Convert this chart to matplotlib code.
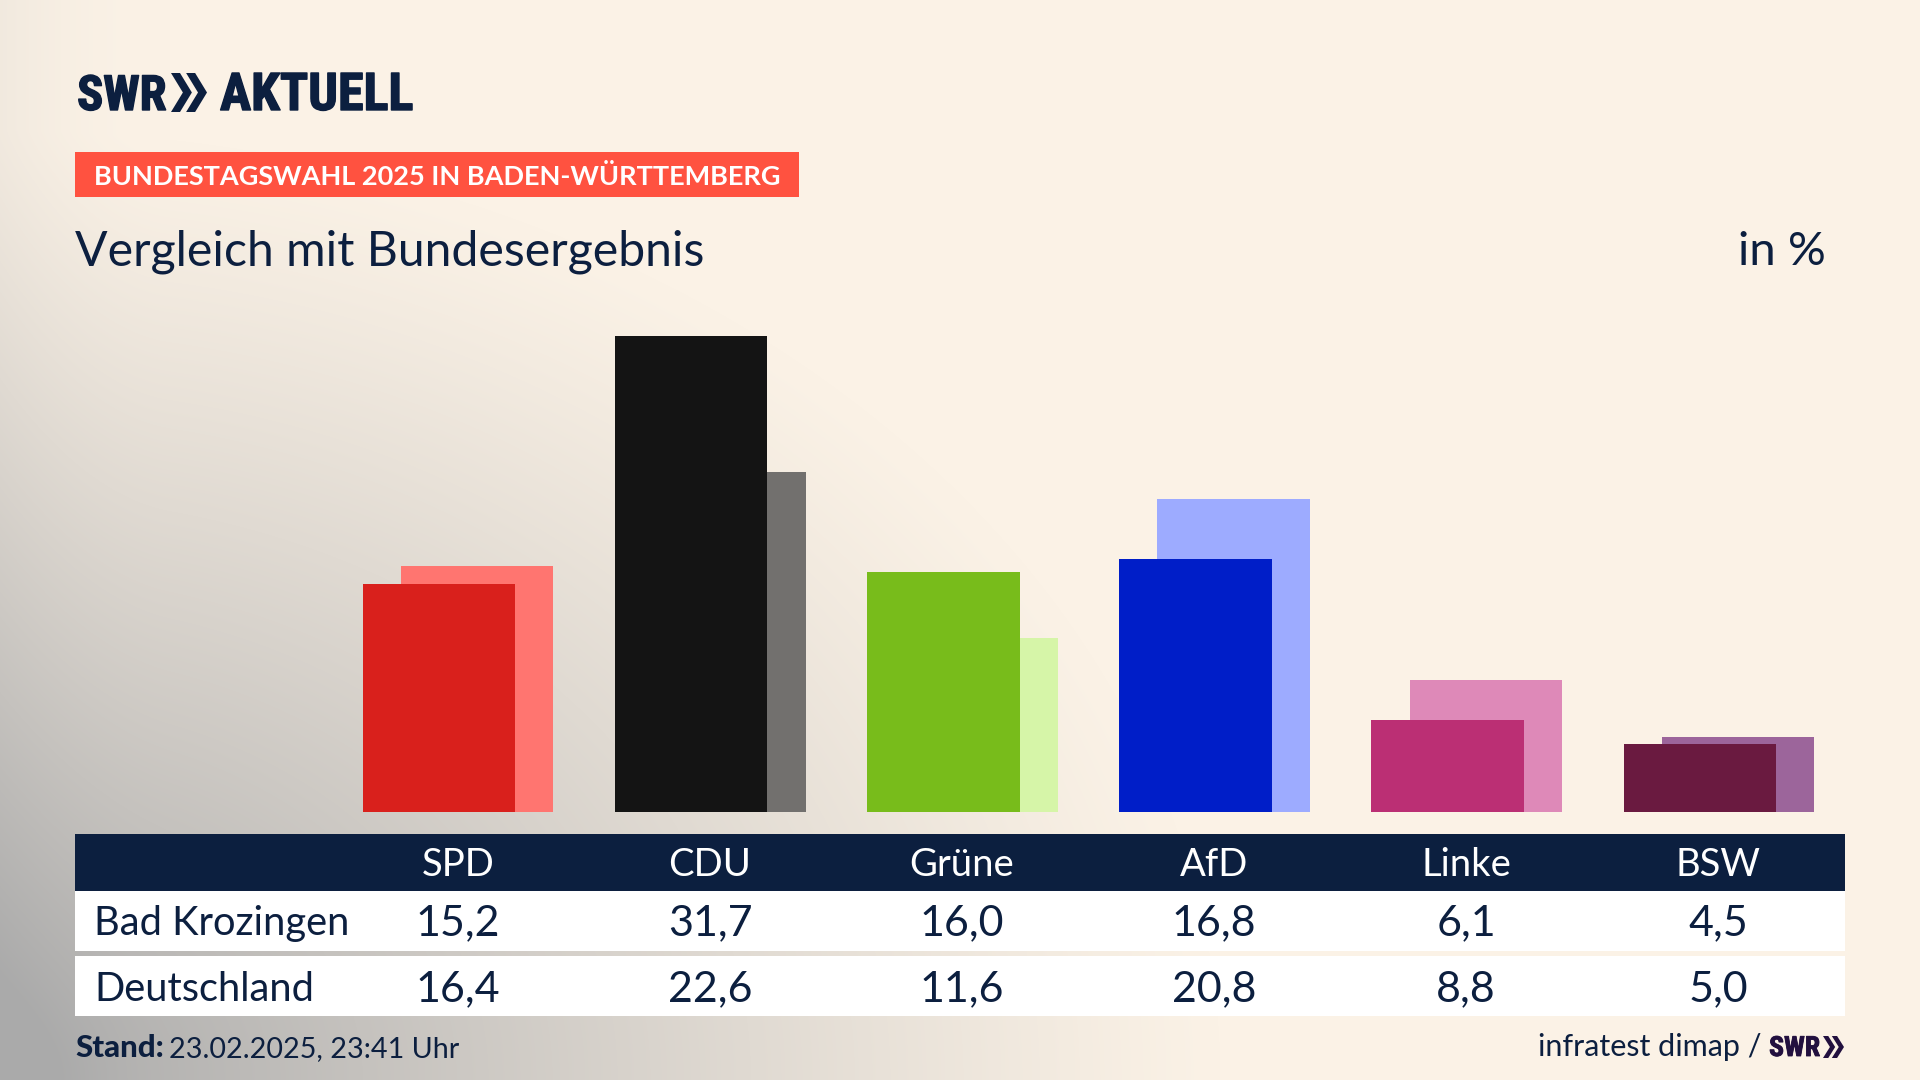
import numpy as np
import matplotlib
matplotlib.use("Agg")
import matplotlib.pyplot as plt
import matplotlib.patheffects as pe
from matplotlib.patches import Rectangle, Polygon

parties = ["SPD", "CDU", "Grüne", "AfD", "Linke", "BSW"]
bad_krozingen = [15.2, 31.7, 16.0, 16.8, 6.1, 4.5]
deutschland = [16.4, 22.6, 11.6, 20.8, 8.8, 5.0]
front_colors = ["#D9201C", "#141414", "#78BC1B", "#001EC8", "#BB2F74", "#6A1A40"]
back_colors = ["#FF7570", "#72706E", "#D6F5A8", "#9DABFF", "#DE89B8", "#9C659B"]

W, H = 1920, 1080
NAVY = "#0C1F3F"
plt.rcParams["font.family"] = ["Lato", "DejaVu Sans"]


def fmt(v):
    return ("%.1f" % v).replace(".", ",")


# background: cream with a grey glow from the lower left corner
def drawBackground(fig):
    ax = fig.add_axes([0, 0, 1, 1], zorder=0)
    yy, xx = np.mgrid[0:H, 0:W]
    r = np.sqrt((xx / 1220.0) ** 2 + ((H - yy) / 950.0) ** 2)
    t = np.clip(1 - r, 0, 1) ** 1.15
    # thin shade along the left edge
    t2 = np.clip(1 - xx / 170.0, 0, 1) ** 2 * 0.12
    t = np.clip(t + t2, 0, 1)
    cream = np.array([251, 242, 230]) / 255.0
    grey = np.array([170, 170, 170]) / 255.0
    img = cream + (grey - cream) * t[..., None]
    ax.imshow(img, aspect="auto", extent=(0, W, H, 0))
    ax.axis("off")


def chevrons(ax, x, top, bottom, w, color):
    mid = (top + bottom) / 2.0
    step = w * 0.42
    thick = w * 0.25
    tip = w * 0.33
    for i in range(2):
        x0 = x + i * step
        ax.add_patch(Polygon([(x0, top), (x0 + thick, top), (x0 + tip + thick, mid),
                              (x0 + thick, bottom), (x0, bottom), (x0 + tip, mid)],
                             closed=True, facecolor=color, edgecolor="none"))


def logoText(ax, x, y, s, size, color, stroke):
    t = ax.text(x, y, s, fontsize=size, fontweight="bold", family=["Roboto Condensed", "Lato"],
                fontstretch="condensed", color=color, va="baseline")
    t.set_path_effects([pe.withStroke(linewidth=stroke, foreground=color)])
    return t


fig = plt.figure(figsize=(W / 100, H / 100), dpi=100)
drawBackground(fig)

# bars
bar_left, bar_right, base_y, top_y = 74, 1845, 812, 250
step_px = 252.2
ax = fig.add_axes([bar_left / W, 1 - base_y / H, (bar_right - bar_left) / W, (base_y - top_y) / H], zorder=1)
ax.patch.set_alpha(0)
x = np.arange(len(parties))
ax.bar(x + 0.0754, deutschland, width=0.605, color=back_colors, zorder=1)
ax.bar(x - 0.0754, bad_krozingen, width=0.605, color=front_colors, zorder=2)
ax.set_xlim((bar_left - 458) / step_px, (bar_right - 458) / step_px)
ax.set_ylim(0, (base_y - top_y) / 15.03)
ax.axis("off")

# everything else in pixel coordinates
pa = fig.add_axes([0, 0, 1, 1], zorder=2)
pa.set_xlim(0, W)
pa.set_ylim(H, 0)
pa.axis("off")
pa.patch.set_alpha(0)

logoText(pa, 77, 110, "SWR", 35, NAVY, 1.0)
chevrons(pa, 171, 73, 112, 36, NAVY)
logoText(pa, 220, 110, "AKTUELL", 37.5, NAVY, 1.0)

pa.add_patch(Rectangle((75, 152), 724, 45, facecolor="#FF5240", edgecolor="none"))
pa.text(94, 185, "BUNDESTAGSWAHL 2025 IN BADEN-WÜRTTEMBERG", fontsize=19.5, fontweight="bold",
        color="white", va="baseline")
pa.text(75, 265, "Vergleich mit Bundesergebnis", fontsize=34.7, color=NAVY, va="baseline")
pa.text(1826, 265, "in %", fontsize=34, color=NAVY, va="baseline", ha="right")

# table
pa.add_patch(Rectangle((75, 834), 1770, 57, facecolor=NAVY, edgecolor="none"))
pa.add_patch(Rectangle((75, 891), 1770, 60, facecolor="white", edgecolor="none"))
pa.add_patch(Rectangle((75, 956), 1770, 60, facecolor="white", edgecolor="none"))
for i, party in enumerate(parties):
    cx = 458 + 252 * i
    pa.text(cx, 876, party, fontsize=27.5, color="white", ha="center", va="baseline")
    pa.text(cx, 935, fmt(bad_krozingen[i]), fontsize=31, color=NAVY, ha="center", va="baseline")
    pa.text(cx, 1001, fmt(deutschland[i]), fontsize=31, color=NAVY, ha="center", va="baseline")
pa.text(94, 935, "Bad Krozingen", fontsize=28.7, color=NAVY, va="baseline")
pa.text(94, 1001, "Deutschland", fontsize=28.7, color=NAVY, va="baseline")

# footer
pa.text(75, 1057, "Stand:", fontsize=22.5, fontweight="black", color=NAVY, va="baseline")
pa.text(169, 1057, "23.02.2025, 23:41 Uhr", fontsize=20.7, color=NAVY, va="baseline")
pa.text(1761, 1056, "infratest dimap /", fontsize=22, color=NAVY, va="baseline", ha="right")
logoText(pa, 1769, 1056, "SWR", 20, "#22103F", 0.6)
chevrons(pa, 1823, 1036, 1058, 21, "#22103F")

fig.savefig("out.png", dpi=100)
